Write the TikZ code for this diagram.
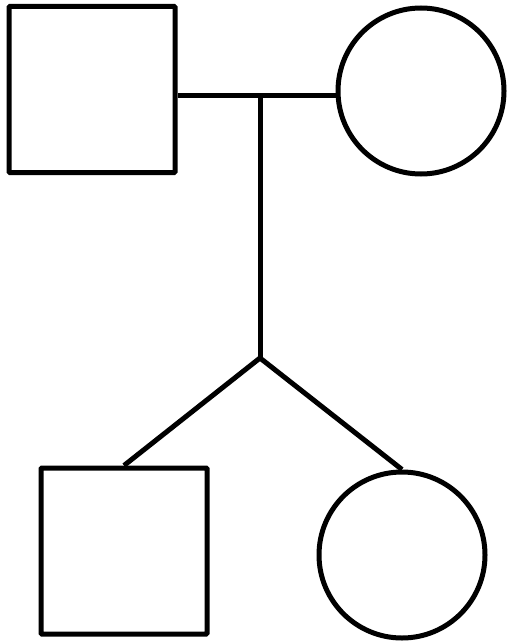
\documentclass[tikz,border=0pt]{standalone}
\tikzset{
    male/.style={draw, line width=5pt, rounded corners=1pt, inner sep=0pt, minimum size=166pt},
    female/.style={draw, circle, line width=5pt, inner sep=0pt, minimum size=166pt},
    link/.style={line width=5pt}
}
\begin{document}
\begin{tikzpicture}[x=1pt, y=-1pt]
    \useasboundingbox (0,0) rectangle (508,642);
    % Parents
    \node[male] (father) at (92,89.5) {};
    \node[female] (mother) at (421,91) {};
    % Children
    \node[male] (son) at (124,551) {};
    \node[female] (daughter) at (402,555) {};
    % Marriage line and descent
    \coordinate (union) at (260,95);
    \coordinate (sibship) at (260,358);
    \draw[link] (father.east |- union) -- (mother.west |- union);
    \draw[link] (union) -- (sibship);
    \draw[link] (sibship) -- (son.north);
    \draw[link] (sibship) -- (daughter.north);
\end{tikzpicture}
\end{document}
